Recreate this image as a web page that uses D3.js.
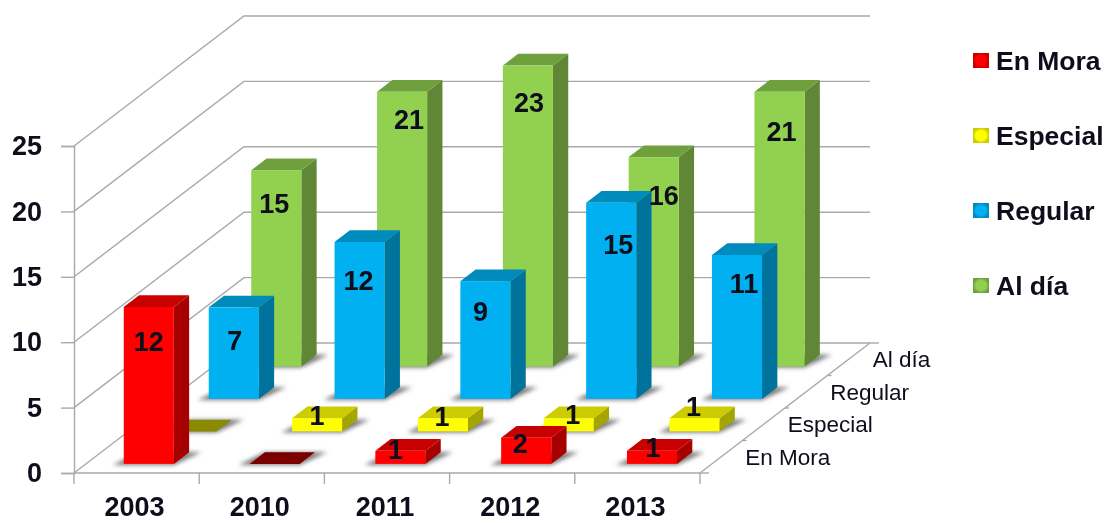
<!DOCTYPE html>
<html>
<head>
<meta charset="utf-8">
<script src="https://cdn.jsdelivr.net/npm/d3@7"></script>
<style>
  body { margin: 0; background: #fff; }
  text { font-family: "Liberation Sans", Arial, sans-serif; fill: #0d0d1a; }
</style>
</head>
<body>
<div id="chart-area"></div>
<script>
// Data
const years = ["2003", "2010", "2011", "2012", "2013"]
const seriesNames = ["En Mora", "Especial", "Regular", "Al día"]
const enMora = [12, 0, 1, 2, 1]
const especial = [0, 1, 1, 1, 1]
const regular = [7, 12, 9, 15, 11]
const alDia = [15, 21, 23, 16, 21]
const yTicks = [0, 5, 10, 15, 20, 25]

const seriesValues = [enMora, especial, regular, alDia]

// Colours per series: front, top, side
const faceColors = ["#ff0000", "#ffff00", "#00b0f0", "#92d050"]
const topColors = ["#c80000", "#cccc00", "#008bbd", "#70a03e"]
const sideColors = ["#a60000", "#a5a500", "#00739c", "#5f8734"]
const zeroColors = ["#7a0000", "#8a8a00", "#00739c", "#5f8734"]

// Hand placed labels in the original, offsets from the default spot
const labelNudge = [
  [[0, 0], [0, 0], [-8, 3], [-9, 10], [-2, 1]],
  [[0, 0], [-3, 2], [-4, 3], [1, 1], [-4, -7]],
  [[1, -1], [-1, 4], [-5, -4], [7, 7], [7, -6]],
  [[-2, -1], [7, -7], [1, 2], [10, 4], [2, 5]]
]

// Config
const width = 1106, height = 523
const gridColor = "#a9a9a9"

const svg = d3.select("#chart-area")
  .append("svg")
    .attr("width", width)
    .attr("height", height)

const defs = svg.append("defs")
defs.append("filter").attr("id", "soft")
  .attr("x", "-5%").attr("y", "-5%").attr("width", "110%").attr("height", "110%")
  .append("feGaussianBlur").attr("stdDeviation", 0.7)
defs.append("filter").attr("id", "shadow")
  .attr("x", "-30%").attr("y", "-50%").attr("width", "160%").attr("height", "200%")
  .append("feGaussianBlur").attr("stdDeviation", 2)

faceColors.forEach((c, i) => {
  const grad = defs.append("radialGradient").attr("id", "swatch" + i)
  grad.append("stop").attr("offset", "0%").attr("stop-color", c)
  grad.append("stop").attr("offset", "65%").attr("stop-color", c)
  grad.append("stop").attr("offset", "100%").attr("stop-color", topColors[i])
})

const g = svg.append("g").attr("filter", "url(#soft)")

// Scales
const x = d3.scaleBand().domain(years).range([74, 700])
const xBar = d3.scaleBand().domain(years).range([74, 703])
const y = d3.scaleLinear().domain([0, 25]).range([473, 146])
const z = d3.scaleBand().domain(seriesNames).range([0, 1])

// Oblique depth: how far a point at depth d moves on screen
const depthX = d3.scaleLinear().domain([0, 1]).range([0, 170])
const depthY = d3.scaleLinear().domain([0, 1]).range([0, -130])

const px = (sx, d) => sx + depthX(d)
const py = (sy, d) => sy + depthY(d)
const poly = pts => pts.map(p => p.join(",")).join(" ")

const x0 = x.range()[0], x1 = x.range()[1]

// Walls and floor
const walls = g.append("g")
  .attr("fill", "none")
  .attr("stroke", gridColor)
  .attr("stroke-width", 1.4)

walls.selectAll(".grid")
  .data(yTicks)
  .join("polyline")
    .attr("class", "grid")
    .attr("points", d => poly([
      [x0, y(d)],
      [px(x0, 1), py(y(d), 1)],
      [px(x1, 1), py(y(d), 1)]
    ]))

walls.append("line")
  .attr("x1", x1).attr("y1", y(0))
  .attr("x2", px(x1, 1)).attr("y2", py(y(0), 1))

// Depth ticks on the right edge of the floor
const depthEdges = [0, 0.25, 0.5, 0.75, 1]
walls.selectAll(".depth-tick")
  .data(depthEdges)
  .join("line")
    .attr("class", "depth-tick")
    .attr("x1", d => px(x1, d)).attr("y1", d => py(y(0), d))
    .attr("x2", d => px(x1, d) + (d === 0 || d === 1 ? 9 : 4)).attr("y2", d => py(y(0), d))

// Y Axis
const yAxis = d3.axisLeft(y).tickValues(yTicks).tickSize(13).tickPadding(19)
const y_axis = g.append("g")
  .attr("class", "y axis")
  .attr("transform", "translate(" + x0 + ", 0)")
  .call(yAxis)
y_axis.selectAll("path").attr("stroke", gridColor).attr("stroke-width", 1.4)
y_axis.selectAll("line").attr("stroke", gridColor).attr("stroke-width", 1.4)
y_axis.selectAll("text")
  .attr("font-size", 27).attr("font-weight", "bold")
  .style("font-family", "'Liberation Sans', Arial, sans-serif")

// X Axis, labels from the band scale, ticks on the band edges
const xAxis = d3.axisBottom(x).tickSize(0).tickPadding(24)
const x_axis = g.append("g")
  .attr("class", "x axis")
  .attr("transform", "translate(0, " + y(0) + ")")
  .call(xAxis)
x_axis.select("path").remove()
x_axis.selectAll("text")
  .attr("dx", -2)
  .attr("font-size", 27).attr("font-weight", "bold")
  .style("font-family", "'Liberation Sans', Arial, sans-serif")

g.append("g").selectAll("line")
  .data(years.map(d => x(d)).concat(x1))
  .join("line")
    .attr("x1", d => d).attr("x2", d => d)
    .attr("y1", y(0)).attr("y2", y(0) + 11)
    .attr("stroke", gridColor).attr("stroke-width", 1.4)

g.append("line")
  .attr("x1", x0).attr("x2", x1)
  .attr("y1", y(0)).attr("y2", y(0))
  .attr("stroke", gridColor).attr("stroke-width", 1.4)

// Depth axis labels
g.append("g").selectAll("text")
  .data(seriesNames)
  .join("text")
    .attr("x", d => px(x1, z(d) + z.bandwidth() / 2) + 24)
    .attr("y", d => py(y(0), z(d) + z.bandwidth() / 2) + 8)
    .attr("font-size", 22.5)
    .text(d => d)

// Bars, back series first
const barWidth = x.bandwidth() * 0.4
const frontGap = 0.07, barDepth = 0.09

const cells = []
seriesNames.forEach((name, s) => {
  seriesValues[s].forEach((v, i) => cells.push({name, s, i, v, year: years[i]}))
})
cells.sort((a, b) => b.s - a.s || a.i - b.i)

const bars = g.append("g").selectAll("g")
  .data(cells)
  .join("g")

function corners(d) {
  const left = xBar(d.year) + xBar.bandwidth() / 2 - barWidth / 2
  const front = z(d.name) + frontGap
  const back = front + barDepth
  return {
    xl: px(left, front), xr: px(left + barWidth, front),
    yb: py(y(0), front), yt: py(y(d.v), front),
    dx: depthX(back) - depthX(front), dy: depthY(back) - depthY(front)
  }
}

// Floor shadow
bars.append("polygon")
  .attr("filter", "url(#shadow)")
  .attr("fill", "#7a7a7a")
  .attr("points", d => {
    const c = corners(d)
    return poly([
      [c.xl - 11, c.yb + 1], [c.xr, c.yb + 1],
      [c.xr + c.dx + 12, c.yb + c.dy], [c.xl + c.dx, c.yb + c.dy]
    ])
  })

// Right side
bars.append("polygon")
  .attr("fill", d => sideColors[d.s])
  .attr("points", d => {
    const c = corners(d)
    return poly([
      [c.xr, c.yb], [c.xr, c.yt],
      [c.xr + c.dx, c.yt + c.dy], [c.xr + c.dx, c.yb + c.dy]
    ])
  })

// Top
bars.append("polygon")
  .attr("fill", d => d.v === 0 ? zeroColors[d.s] : topColors[d.s])
  .attr("points", d => {
    const c = corners(d)
    return poly([
      [c.xl, c.yt], [c.xr, c.yt],
      [c.xr + c.dx, c.yt + c.dy], [c.xl + c.dx, c.yt + c.dy]
    ])
  })

// Front
bars.filter(d => d.v > 0).append("rect")
  .attr("fill", d => faceColors[d.s])
  .attr("x", d => corners(d).xl)
  .attr("y", d => corners(d).yt)
  .attr("width", barWidth)
  .attr("height", d => corners(d).yb - corners(d).yt)

// Value labels, tall bars in the face, short ones over the top
g.append("g").selectAll("text")
  .data(cells.filter(d => d.v > 0))
  .join("text")
    .attr("text-anchor", "middle")
    .attr("x", d => corners(d).xl + barWidth / 2 + (d.v < 5 ? 3 : 0) + labelNudge[d.s][d.i][0])
    .attr("y", d => corners(d).yt + (d.v < 5 ? 5 : 44) + labelNudge[d.s][d.i][1])
    .attr("font-size", 27)
    .attr("font-weight", "bold")
    .text(d => d.v)

// Legend
const legendY = d3.scalePoint().domain(seriesNames).range([61, 286])
const legend = g.append("g").selectAll("g")
  .data(seriesNames)
  .join("g")
    .attr("transform", d => "translate(973, " + legendY(d) + ")")

legend.append("rect")
  .attr("x", 0).attr("y", -8)
  .attr("width", 16).attr("height", 15)
  .attr("fill", (d, i) => "url(#swatch" + i + ")")

legend.append("text")
  .attr("x", 23).attr("y", 9)
  .attr("font-size", 26.5)
  .attr("font-weight", "bold")
  .text(d => d)
</script>
</body>
</html>
